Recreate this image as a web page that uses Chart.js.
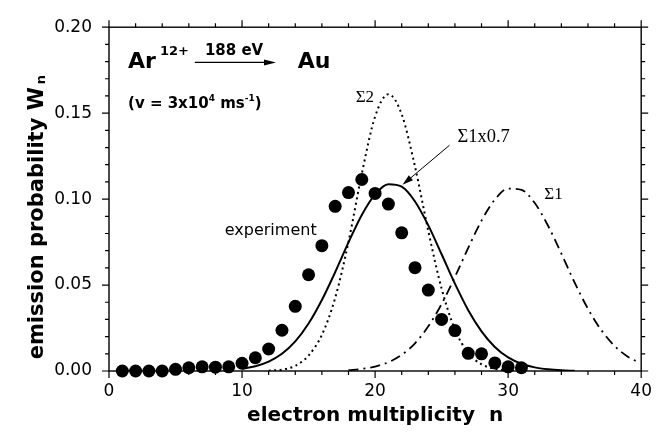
<!DOCTYPE html>
<html><head><meta charset="utf-8">
<script src="https://cdn.jsdelivr.net/npm/chart.js@4/dist/chart.umd.min.js"></script>
<style>html,body{margin:0;padding:0;background:#fff}#wrap{width:662px;height:438px}</style>
</head><body><div id="wrap"><canvas id="c" width="662" height="438"></canvas></div>
<script>
// ---- data ----
const nExp = [1,2,3,4,5,6,7,8,9,10,11,12,13,14,15,16,17,18,19,20,21,22,23,24,25,26,27,28,29,30,31];
const wExp = [0.0000,0.0000,0.0000,0.0000,0.0010,0.0019,0.0024,0.0022,0.0024,0.0045,0.0077,0.0128,0.0237,0.0376,0.0560,0.0729,0.0958,0.1038,0.1114,0.1033,0.0971,0.0804,0.0601,0.0471,0.0300,0.0235,0.0103,0.0100,0.0047,0.0024,0.0019];

const nSig1x07 = [10,11,12,13,14,15,16,17,18,19,20,21,22,23,24,25,26,27,28,29,30,31,32,33,34,35];
const wSig1x07 = [0.0013,0.0028,0.0055,0.0100,0.0172,0.0276,0.0413,0.0575,0.0748,0.0908,0.1028,0.1087,0.1072,0.0986,0.0847,0.0679,0.0508,0.0354,0.0231,0.0140,0.0079,0.0042,0.0021,0.0010,0.0004,0.0001];

const nSig2 = [12,13,14,15,16,17,18,19,20,21,22,23,24,25,26,27,28,29,30,31];
const wSig2 = [0.0002,0.0008,0.0030,0.0090,0.0210,0.0425,0.0751,0.1147,0.1480,0.1610,0.1493,0.1189,0.0814,0.0479,0.0242,0.0105,0.0039,0.0013,0.0003,0.0001];

const nSig1 = [18,19,20,21,22,23,24,25,26,27,28,29,30,31,32,33,34,35,36,37,38,39,39.8];
const wSig1 = [0.0005,0.0012,0.0026,0.0051,0.0094,0.0161,0.0260,0.0390,0.0547,0.0716,0.0875,0.0997,0.1061,0.1054,0.0977,0.0845,0.0683,0.0514,0.0362,0.0238,0.0146,0.0083,0.0051];

const xMajorTicks = [0,10,20,30,40];
const yMajorTicks = [0.00,0.05,0.10,0.15,0.20];
const xMinorStep = 2;
const yMinorStep = 0.01;

const xTitle = 'electron multiplicity  n';
const yTitle = 'emission probability W';
const yTitleSub = 'n';

// ---- chart ----
const pts = (xs, ys) => xs.map((x, i) => ({x: x, y: ys[i]}));
Chart.defaults.font.family = '"DejaVu Sans", sans-serif';
Chart.defaults.color = '#000';

const SANS = '"DejaVu Sans", sans-serif';
const SERIF = '"Liberation Serif", "DejaVu Serif", serif';

function arrow(ctx, x1, y1, x2, y2, len, half) {
  const a = Math.atan2(y2 - y1, x2 - x1);
  ctx.beginPath(); ctx.moveTo(x1, y1);
  ctx.lineTo(x2 - Math.cos(a) * len * 0.8, y2 - Math.sin(a) * len * 0.8); ctx.stroke();
  ctx.beginPath();
  ctx.moveTo(x2, y2);
  ctx.lineTo(x2 - Math.cos(a) * len + Math.sin(a) * half, y2 - Math.sin(a) * len - Math.cos(a) * half);
  ctx.lineTo(x2 - Math.cos(a) * len - Math.sin(a) * half, y2 - Math.sin(a) * len + Math.cos(a) * half);
  ctx.closePath(); ctx.fill();
}

const decor = {
  id: 'decor',
  afterDraw(chart) {
    const ctx = chart.ctx, xs = chart.scales.x, ys = chart.scales.y;
    const X = v => xs.getPixelForValue(v), Y = v => ys.getPixelForValue(v);
    const L = X(0), R = X(40), T = Y(0.2), B = Y(0);
    ctx.save();
    ctx.strokeStyle = '#000'; ctx.fillStyle = '#000';
    ctx.lineWidth = 1.4;
    ctx.strokeRect(L, T, R - L, B - T);
    // ticks (outward), major + minor
    ctx.lineWidth = 1.2;
    ctx.beginPath();
    for (let v = 0; v <= 40 + 1e-9; v += xMinorStep) {
      const major = xMajorTicks.some(m => Math.abs(m - v) < 1e-9);
      const len = major ? 7 : 4, x = X(v);
      ctx.moveTo(x, B); ctx.lineTo(x, B + len);
      ctx.moveTo(x, T); ctx.lineTo(x, T - len);
    }
    for (let k = 0; k <= 20; k++) {
      const v = k * yMinorStep;
      const major = yMajorTicks.some(m => Math.abs(m - v) < 1e-9);
      const len = major ? 7 : 4, y = Y(v);
      ctx.moveTo(L, y); ctx.lineTo(L - len, y);
      ctx.moveTo(R, y); ctx.lineTo(R + len, y);
    }
    ctx.stroke();

    // y-axis title with subscript
    ctx.save();
    ctx.translate(43, (T + B) / 2 + 18);
    ctx.rotate(-Math.PI / 2);
    ctx.font = 'bold 21px ' + SANS;
    const wMain = ctx.measureText(yTitle).width;
    ctx.font = 'bold 13px ' + SANS;
    const wSub = ctx.measureText(yTitleSub).width;
    const tot = wMain + 3 + wSub;
    ctx.textBaseline = 'alphabetic'; ctx.textAlign = 'left';
    ctx.font = 'bold 21px ' + SANS;
    ctx.fillText(yTitle, -tot / 2, 0);
    ctx.font = 'bold 13px ' + SANS;
    ctx.fillText(yTitleSub, -tot / 2 + wMain + 3, 2);
    ctx.restore();

    ctx.textBaseline = 'alphabetic'; ctx.textAlign = 'left';
    // header: Ar^12+ --188 eV--> Au
    ctx.font = 'bold 22px ' + SANS;
    ctx.fillText('Ar', X(1.43), Y(0.1762));
    ctx.font = 'bold 13px ' + SANS;
    ctx.fillText('12+', X(3.83), Y(0.1840));
    ctx.textAlign = 'center';
    ctx.font = 'bold 15px ' + SANS;
    ctx.fillText('188 eV', X(9.4), Y(0.1840));
    ctx.textAlign = 'left';
    ctx.lineWidth = 1.2;
    arrow(ctx, X(6.45), Y(0.1795), X(12.55), Y(0.1795), 12, 3);
    ctx.font = 'bold 22px ' + SANS;
    ctx.fillText('Au', X(14.18), Y(0.1762));
    // (v = 3x10^4 ms^-1)
    let cx = X(1.43); const by = Y(0.1532);
    const seg = (t, size, dy) => { ctx.font = 'bold ' + size + 'px ' + SANS; ctx.fillText(t, cx, by + dy); cx += ctx.measureText(t).width; };
    seg('(v = 3x10', 15, 0); seg('4', 9, -7); seg(' ms', 15, 0); seg('-1', 9, -7); seg(')', 15, 0);

    // serif labels
    ctx.font = '17px ' + SERIF;
    ctx.fillText('\u03A32', X(18.54), Y(0.1565));
    ctx.fillText('\u03A31', X(32.72), Y(0.1000));
    ctx.font = '18.5px ' + SERIF;
    ctx.fillText('\u03A31x0.7', X(26.19), Y(0.1330));
    ctx.lineWidth = 1;
    arrow(ctx, X(25.59), Y(0.1313), X(22.06), Y(0.1083), 11, 3.2);
    // experiment
    ctx.font = '16px ' + SANS;
    ctx.fillText('experiment', X(8.7), Y(0.0791));
    ctx.restore();
  }
};

new Chart(document.getElementById('c'), {
  type: 'scatter',
  data: {
    datasets: [
      { label: 'experiment', data: pts(nExp, wExp), showLine: false, pointRadius: 6.5, pointHoverRadius: 6.5,
        backgroundColor: '#000', borderColor: '#000', borderWidth: 0, clip: false, order: 0 },
      { label: 'Σ1x0.7', data: pts(nSig1x07, wSig1x07), showLine: true, pointRadius: 0, borderColor: '#000',
        borderWidth: 2, cubicInterpolationMode: 'monotone', order: 1 },
      { label: 'Σ2', data: pts(nSig2, wSig2), showLine: true, pointRadius: 0, borderColor: '#000',
        borderWidth: 2, borderDash: [2, 3.5], cubicInterpolationMode: 'monotone', order: 2 },
      { label: 'Σ1', data: pts(nSig1, wSig1), showLine: true, pointRadius: 0, borderColor: '#000',
        borderWidth: 1.8, borderDash: [10, 5, 2, 5], cubicInterpolationMode: 'monotone', order: 3 }
    ]
  },
  options: {
    responsive: false, animation: false, devicePixelRatio: 1,
    layout: { padding: { left: 0, right: 20, top: 14, bottom: 0 } },
    plugins: { legend: { display: false }, tooltip: { enabled: false } },
    scales: {
      x: {
        type: 'linear', min: 0, max: 40,
        afterBuildTicks: s => { s.ticks = xMajorTicks.map(v => ({value: v})); },
        afterFit: s => { s.height = 67; },
        grid: { display: false, drawTicks: false }, border: { display: false },
        ticks: { font: { size: 17 }, color: '#000', padding: 10, maxRotation: 0, autoSkip: false },
        title: { display: true, text: xTitle, color: '#000', font: { size: 20, weight: 'bold' }, padding: { top: 0, bottom: 10 } }
      },
      y: {
        type: 'linear', min: 0, max: 0.2,
        afterBuildTicks: s => { s.ticks = yMajorTicks.map(v => ({value: v})); },
        afterFit: s => { s.width = 109; },
        grid: { display: false, drawTicks: false }, border: { display: false },
        ticks: { font: { size: 17 }, color: '#000', padding: 17, autoSkip: false, callback: v => Number(v).toFixed(2) },
        title: { display: false }
      }
    }
  },
  plugins: [decor]
});
</script></body></html>
